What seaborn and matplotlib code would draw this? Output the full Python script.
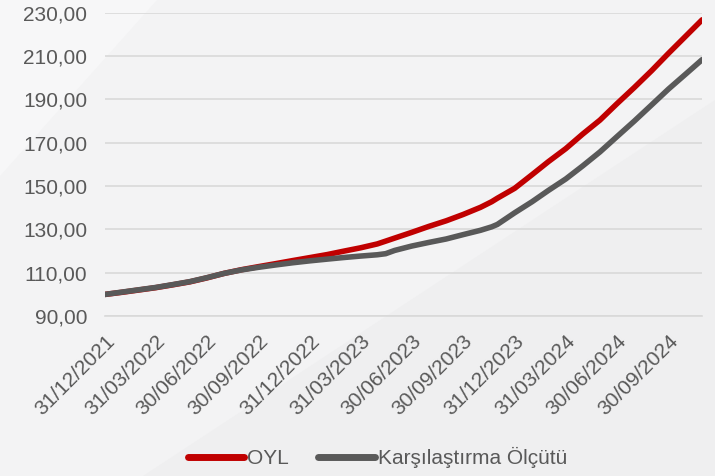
import pandas as pd
import matplotlib
matplotlib.use("Agg")
import matplotlib.pyplot as plt
import matplotlib.ticker as mticker
import matplotlib.transforms as mtransforms
from matplotlib.patches import Polygon
import seaborn as sns

# month-end readings of the two indexed series (31/12/2021 = 100)
dates = ["2021-12-31", "2022-01-31", "2022-02-28", "2022-03-31", "2022-04-30",
         "2022-05-31", "2022-06-30", "2022-07-31", "2022-08-31", "2022-09-30",
         "2022-10-31", "2022-11-30", "2022-12-31", "2023-01-31", "2023-02-28",
         "2023-03-31", "2023-04-30", "2023-05-15", "2023-05-31", "2023-06-30",
         "2023-07-31", "2023-08-31", "2023-09-30", "2023-10-31", "2023-11-20",
         "2023-11-30", "2023-12-31", "2024-01-31", "2024-02-29", "2024-03-31",
         "2024-04-30", "2024-05-31", "2024-06-30", "2024-07-31", "2024-08-31",
         "2024-09-30", "2024-10-31", "2024-11-29"]

oyl = [100.0, 101.0, 102.0, 103.1, 104.4,
       105.8, 107.6, 109.7, 111.4, 112.8,
       114.2, 115.6, 117.0, 118.4, 119.9,
       121.5, 123.3, 124.6, 126.0, 128.6,
       131.4, 134.0, 136.9, 140.2, 142.8,
       144.4, 149.0, 155.3, 161.3, 167.3,
       174.0, 180.5, 188.0, 195.5, 203.3,
       211.3, 219.3, 226.8]

olcut = [100.0, 101.1, 102.1, 103.2, 104.5,
         105.9, 107.7, 109.7, 111.3, 112.5,
         113.6, 114.6, 115.5, 116.3, 117.0,
         117.7, 118.3, 118.8, 120.3, 122.3,
         124.0, 125.6, 127.6, 129.6, 131.2,
         132.3, 137.7, 142.8, 148.0, 153.3,
         159.3, 165.8, 172.8, 180.0, 187.5,
         194.8, 201.8, 208.4]

series_names = ["OYL", "Karşılaştırma Ölçütü"]
tick_dates = ["2021-12-31", "2022-03-31", "2022-06-30", "2022-09-30",
              "2022-12-31", "2023-03-31", "2023-06-30", "2023-09-30",
              "2023-12-31", "2024-03-31", "2024-06-30", "2024-09-30"]
y_ticks = [90, 110, 130, 150, 170, 190, 210, 230]

df = pd.DataFrame({
    "Tarih": pd.to_datetime(dates * 2),
    "Değer": oyl + olcut,
    "Seri": [series_names[0]] * len(oyl) + [series_names[1]] * len(olcut),
})

sns.set_style("white")
plt.rcParams["font.family"] = ["Liberation Sans", "DejaVu Sans"]

bg = "#F3F3F4"
fig = plt.figure(figsize=(7.15, 4.76), dpi=100, facecolor=bg)

# faint diagonal shading of the slide background, kept behind everything
fig.patches.append(Polygon([(0, 0.63), (0.0, 1.0), (0.22, 1.0)], closed=True,
                           transform=fig.transFigure, facecolor="#F7F7F8",
                           edgecolor="none", zorder=-10))
fig.patches.append(Polygon([(1.0, 0.79), (1.0, 0.0), (0.2, 0.0)], closed=True,
                           transform=fig.transFigure, facecolor="#EFEFF0",
                           edgecolor="none", zorder=-10))

ax = fig.add_axes([0.147, 0.336, 0.835, 0.637])
ax.set_facecolor("none")

sns.lineplot(data=df, x="Tarih", y="Değer", hue="Seri", hue_order=series_names,
             palette=["#C00000", "#595959"], linewidth=4, ax=ax,
             solid_capstyle="round", zorder=3)

ax.set_ylim(90, 230)
ax.set_yticks(y_ticks)
ax.yaxis.set_major_formatter(mticker.FuncFormatter(lambda v, p: f"{v:.2f}".replace(".", ",")))
ax.set_xlim(pd.Timestamp(dates[0]), pd.Timestamp(dates[-1]))
ticks = pd.to_datetime(tick_dates)
ax.set_xticks(ticks)
ax.set_xticklabels([t.strftime("%d/%m/%Y") for t in ticks], rotation=45, ha="right",
                   rotation_mode="anchor")
# nudge the rotated labels a little to the left, as in the original
shift = mtransforms.ScaledTranslation(-6 / 100, 0, fig.dpi_scale_trans)
for lbl in ax.get_xticklabels():
    lbl.set_transform(lbl.get_transform() + shift)

ax.grid(axis="y", color="#D9D9D9", linewidth=1.2)
ax.grid(axis="x", visible=False)
for side in ["top", "right", "left"]:
    ax.spines[side].set_visible(False)
ax.spines["bottom"].set_color("#D9D9D9")
ax.spines["bottom"].set_linewidth(1.2)

ax.tick_params(axis="y", length=0, pad=13, labelsize=15, labelcolor="#595959")
ax.tick_params(axis="x", direction="out", length=5, width=1.2, color="#D9D9D9",
               pad=6, labelsize=15, labelcolor="#595959")
ax.set_xlabel("")
ax.set_ylabel("")

leg = ax.legend(loc="center", bbox_to_anchor=(0.528, 0.038), bbox_transform=fig.transFigure,
                ncol=2, frameon=False, fontsize=15, handlelength=2.7, handletextpad=0.15,
                columnspacing=1.4, labelcolor="#595959")
for line in leg.get_lines():
    line.set_linewidth(5)
    line.set_solid_capstyle("round")

fig.savefig("out.png", dpi=100, facecolor=bg)
